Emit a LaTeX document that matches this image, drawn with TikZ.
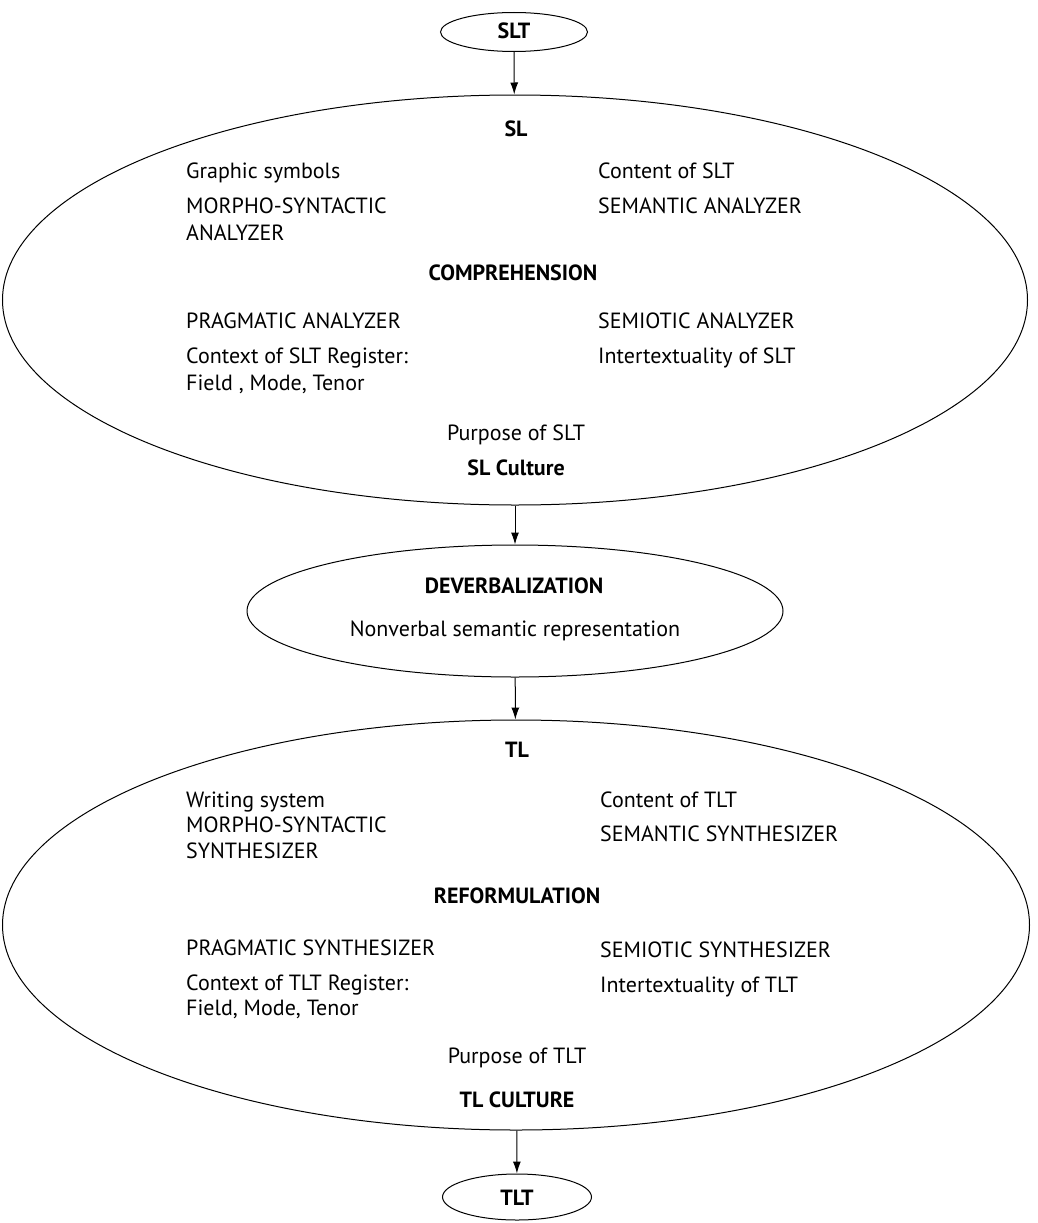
\documentclass[tikz,border=0pt]{standalone}
\usepackage{fontspec}
\setmainfont{PT Sans}
\usetikzlibrary{shapes.geometric,arrows.meta}

\tikzset{
  oval/.style={draw, ellipse, inner sep=0pt, line width=1pt},
  txt/.style={inner sep=0pt, anchor=base west, font=\fontsize{22}{26}\selectfont},
  mid/.style={txt, anchor=base},
  hd/.style={mid, font=\fontsize{22}{26}\selectfont\bfseries},
  flow/.style={line width=1pt, -{Latex[length=12pt,width=8pt]}}
}

\begin{document}
\begin{tikzpicture}[x=1pt, y=-1pt]
\useasboundingbox (0,0) rectangle (1037,1223);

% Ovals
\node[oval, minimum width=147pt, minimum height=39pt] (slt) at (514,32) {};
\node[oval, minimum width=1025pt, minimum height=410pt] (sl) at (515,300) {};
\node[oval, minimum width=536pt, minimum height=132pt] (deverb) at (515,611) {};
\node[oval, minimum width=1027pt, minimum height=410pt] (tl) at (516,925) {};
\node[oval, minimum width=149pt, minimum height=46pt] (tlt) at (517,1197) {};

% Arrows
\draw[flow] (slt) -- (sl);
\draw[flow] (sl) -- (deverb);
\draw[flow] (deverb) -- (tl);
\draw[flow] (tl) -- (tlt);

% SLT and TLT
\node[hd] (sltlbl) at (514,39) {SLT};
\node[hd] (tltlbl) at (517,1205) {TLT};

% Comprehension
\node[hd] (sllbl) at (516,136) {SL};
\node[txt] (graphic) at (186,178) {Graphic symbols};
\node[txt] (morphoa) at (186,213) {MORPHO-SYNTACTIC};
\node[txt] (analyzer) at (186,240) {ANALYZER};
\node[txt] (contsl) at (598,178) {Content of SLT};
\node[txt] (semana) at (598,213) {SEMANTIC ANALYZER};
\node[hd] (compr) at (513,280) {COMPREHENSION};
\node[txt] (pragana) at (186,328) {PRAGMATIC ANALYZER};
\node[txt] (ctxsl) at (186,363) {Context of SLT Register:};
\node[txt] (fieldsl) at (186,390) {Field , Mode, Tenor};
\node[txt] (semioana) at (598,328) {SEMIOTIC ANALYZER};
\node[txt] (intersl) at (598,363) {Intertextuality of SLT};
\node[mid] (purpsl) at (516,440) {Purpose of SLT};
\node[hd] (slcult) at (516,475) {SL Culture};

% Deverbalization
\node[hd] (deverblbl) at (514,593) {DEVERBALIZATION};
\node[mid] (nonverb) at (515,636) {Nonverbal semantic representation};

% Reformulation
\node[hd] (tllbl) at (517,757) {TL};
\node[txt] (writing) at (186,807) {Writing system};
\node[txt] (morphos) at (186,832) {MORPHO-SYNTACTIC};
\node[txt] (synth) at (186,858) {SYNTHESIZER};
\node[txt] (conttl) at (600,807) {Content of TLT};
\node[txt] (semsyn) at (600,841) {SEMANTIC SYNTHESIZER};
\node[hd] (reform) at (517,903) {REFORMULATION};
\node[txt] (pragsyn) at (186,955) {PRAGMATIC SYNTHESIZER};
\node[txt] (ctxtl) at (186,990) {Context of TLT Register:};
\node[txt] (fieldtl) at (186,1015) {Field, Mode, Tenor};
\node[txt] (semiosyn) at (600,957) {SEMIOTIC SYNTHESIZER};
\node[txt] (intertl) at (600,992) {Intertextuality of TLT};
\node[mid] (purptl) at (517,1063) {Purpose of TLT};
\node[hd] (tlcult) at (517,1107) {TL CULTURE};

\end{tikzpicture}
\end{document}
